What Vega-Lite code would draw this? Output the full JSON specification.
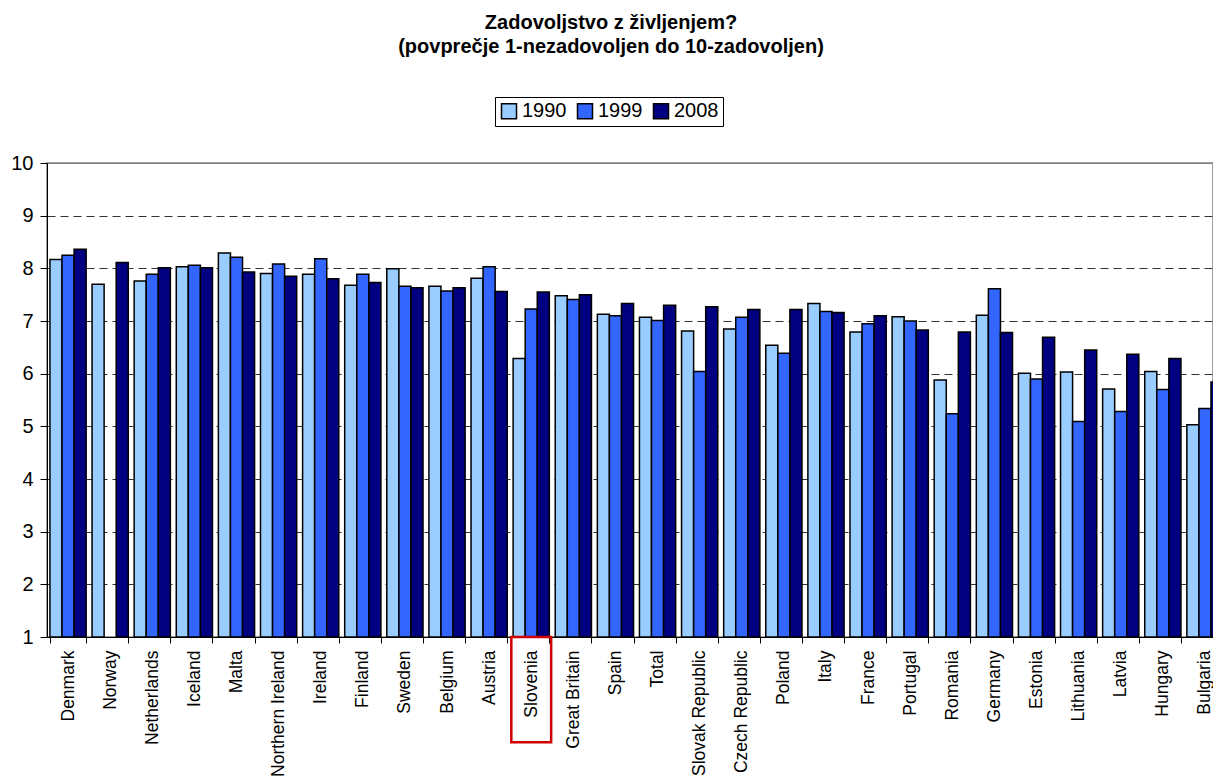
{
  "$schema": "https://vega.github.io/schema/vega-lite/v6.json",
  "autosize": {"type": "none"},
  "padding": {"left": 47, "top": 163, "right": 0, "bottom": 143},
  "width": 1166,
  "height": 474,
  "background": "white",
  "config": {
    "font": "Liberation Sans",
    "view": {"stroke": "#808080", "strokeWidth": 1.5}
  },
  "title": {
    "text": ["Zadovoljstvo z življenjem?", "(povprečje 1-nezadovoljen do 10-zadovoljen)"],
    "fontSize": 20,
    "fontWeight": "bold",
    "font": "Liberation Sans",
    "color": "black",
    "anchor": "middle",
    "frame": "group",
    "lineHeight": 24,
    "dx": -19,
    "offset": 40
  },
  "datasets": {
    "bars": [
      {"country": "Denmark", "year": "1990", "value": 8.17},
      {"country": "Denmark", "year": "1999", "value": 8.25},
      {"country": "Denmark", "year": "2008", "value": 8.36},
      {"country": "Norway", "year": "1990", "value": 7.70},
      {"country": "Norway", "year": "2008", "value": 8.11},
      {"country": "Netherlands", "year": "1990", "value": 7.76},
      {"country": "Netherlands", "year": "1999", "value": 7.89},
      {"country": "Netherlands", "year": "2008", "value": 8.01},
      {"country": "Iceland", "year": "1990", "value": 8.03},
      {"country": "Iceland", "year": "1999", "value": 8.06},
      {"country": "Iceland", "year": "2008", "value": 8.01},
      {"country": "Malta", "year": "1990", "value": 8.29},
      {"country": "Malta", "year": "1999", "value": 8.21},
      {"country": "Malta", "year": "2008", "value": 7.93},
      {"country": "Northern Ireland", "year": "1990", "value": 7.90},
      {"country": "Northern Ireland", "year": "1999", "value": 8.08},
      {"country": "Northern Ireland", "year": "2008", "value": 7.85},
      {"country": "Ireland", "year": "1990", "value": 7.89},
      {"country": "Ireland", "year": "1999", "value": 8.18},
      {"country": "Ireland", "year": "2008", "value": 7.80},
      {"country": "Finland", "year": "1990", "value": 7.68},
      {"country": "Finland", "year": "1999", "value": 7.89},
      {"country": "Finland", "year": "2008", "value": 7.73},
      {"country": "Sweden", "year": "1990", "value": 7.99},
      {"country": "Sweden", "year": "1999", "value": 7.66},
      {"country": "Sweden", "year": "2008", "value": 7.63},
      {"country": "Belgium", "year": "1990", "value": 7.66},
      {"country": "Belgium", "year": "1999", "value": 7.57},
      {"country": "Belgium", "year": "2008", "value": 7.63},
      {"country": "Austria", "year": "1990", "value": 7.81},
      {"country": "Austria", "year": "1999", "value": 8.03},
      {"country": "Austria", "year": "2008", "value": 7.56},
      {"country": "Slovenia", "year": "1990", "value": 6.29},
      {"country": "Slovenia", "year": "1999", "value": 7.23},
      {"country": "Slovenia", "year": "2008", "value": 7.55},
      {"country": "Great Britain", "year": "1990", "value": 7.48},
      {"country": "Great Britain", "year": "1999", "value": 7.41},
      {"country": "Great Britain", "year": "2008", "value": 7.50},
      {"country": "Spain", "year": "1990", "value": 7.13},
      {"country": "Spain", "year": "1999", "value": 7.10},
      {"country": "Spain", "year": "2008", "value": 7.33},
      {"country": "Total", "year": "1990", "value": 7.07},
      {"country": "Total", "year": "1999", "value": 7.01},
      {"country": "Total", "year": "2008", "value": 7.30},
      {"country": "Slovak Republic", "year": "1990", "value": 6.81},
      {"country": "Slovak Republic", "year": "1999", "value": 6.04},
      {"country": "Slovak Republic", "year": "2008", "value": 7.27},
      {"country": "Czech Republic", "year": "1990", "value": 6.85},
      {"country": "Czech Republic", "year": "1999", "value": 7.07},
      {"country": "Czech Republic", "year": "2008", "value": 7.22},
      {"country": "Poland", "year": "1990", "value": 6.54},
      {"country": "Poland", "year": "1999", "value": 6.39},
      {"country": "Poland", "year": "2008", "value": 7.22},
      {"country": "Italy", "year": "1990", "value": 7.33},
      {"country": "Italy", "year": "1999", "value": 7.18},
      {"country": "Italy", "year": "2008", "value": 7.16},
      {"country": "France", "year": "1990", "value": 6.79},
      {"country": "France", "year": "1999", "value": 6.95},
      {"country": "France", "year": "2008", "value": 7.10},
      {"country": "Portugal", "year": "1990", "value": 7.08},
      {"country": "Portugal", "year": "1999", "value": 7.00},
      {"country": "Portugal", "year": "2008", "value": 6.83},
      {"country": "Romania", "year": "1990", "value": 5.88},
      {"country": "Romania", "year": "1999", "value": 5.24},
      {"country": "Romania", "year": "2008", "value": 6.79},
      {"country": "Germany", "year": "1990", "value": 7.11},
      {"country": "Germany", "year": "1999", "value": 7.61},
      {"country": "Germany", "year": "2008", "value": 6.78},
      {"country": "Estonia", "year": "1990", "value": 6.01},
      {"country": "Estonia", "year": "1999", "value": 5.90},
      {"country": "Estonia", "year": "2008", "value": 6.69},
      {"country": "Lithuania", "year": "1990", "value": 6.03},
      {"country": "Lithuania", "year": "1999", "value": 5.09},
      {"country": "Lithuania", "year": "2008", "value": 6.45},
      {"country": "Latvia", "year": "1990", "value": 5.71},
      {"country": "Latvia", "year": "1999", "value": 5.28},
      {"country": "Latvia", "year": "2008", "value": 6.37},
      {"country": "Hungary", "year": "1990", "value": 6.04},
      {"country": "Hungary", "year": "1999", "value": 5.70},
      {"country": "Hungary", "year": "2008", "value": 6.29},
      {"country": "Bulgaria", "year": "1990", "value": 5.03},
      {"country": "Bulgaria", "year": "1999", "value": 5.34},
      {"country": "Bulgaria", "year": "2008", "value": 5.84}
    ],
    "highlight": [
      {"country": "Slovenia", "top": 1, "bottom": -1}
    ]
  },
  "layer": [
    {
      "data": {"name": "bars"},
      "mark": {"type": "bar", "stroke": "black", "strokeWidth": 1.5},
      "encoding": {
        "x": {
          "field": "country",
          "type": "nominal",
          "sort": null,
          "scale": {"range": [0, 1179], "paddingInner": 0.14, "paddingOuter": 0.07},
          "axis": {
            "title": null,
            "labelAngle": -90,
            "labelFontSize": 17.5,
            "labelColor": "black",
            "labelPadding": 7,
            "tickSize": 6,
            "tickColor": "black",
            "tickBand": "extent",
            "domainColor": "black",
            "domainWidth": 1
          }
        },
        "xOffset": {"field": "year", "type": "nominal", "scale": {"paddingInner": 0, "paddingOuter": 0}},
        "y": {
          "field": "value",
          "type": "quantitative",
          "scale": {"domain": [1, 10], "zero": false, "nice": false},
          "axis": {
            "title": null,
            "values": [1, 2, 3, 4, 5, 6, 7, 8, 9, 10],
            "labelFontSize": 20,
            "labelColor": "black",
            "labelPadding": 7,
            "tickSize": 7,
            "tickColor": "black",
            "domainColor": "black",
            "domainWidth": 1,
            "grid": true,
            "gridColor": {"condition": {"test": "datum.value === 10", "value": "#808080"}, "value": "#333333"},
            "gridDash": {"condition": {"test": "datum.value === 10", "value": []}, "value": [8, 5]},
            "gridWidth": 1
          }
        },
        "y2": {"datum": 1},
        "color": {
          "field": "year",
          "type": "nominal",
          "scale": {"domain": ["1990", "1999", "2008"], "range": ["#99CCFF", "#3366FF", "#000080"]},
          "legend": {
            "title": null,
            "orient": "none",
            "legendX": 448,
            "legendY": -66,
            "direction": "horizontal",
            "symbolType": "square",
            "symbolSize": 225,
            "symbolStrokeColor": "black",
            "symbolStrokeWidth": 1.5,
            "labelFontSize": 20,
            "labelColor": "black",
            "labelOffset": 3,
            "columnPadding": 7,
            "padding": 4,
            "strokeColor": "black",
            "fillColor": "white"
          }
        }
      }
    },
    {
      "data": {"name": "highlight"},
      "mark": {"type": "bar", "fill": null, "fillOpacity": 0, "stroke": "#D00000", "strokeWidth": 2.5, "width": {"band": 1.1}, "clip": false},
      "encoding": {
        "x": {"field": "country", "type": "nominal", "sort": null},
        "y": {"field": "top", "type": "quantitative"},
        "y2": {"field": "bottom"}
      }
    }
  ]
}
